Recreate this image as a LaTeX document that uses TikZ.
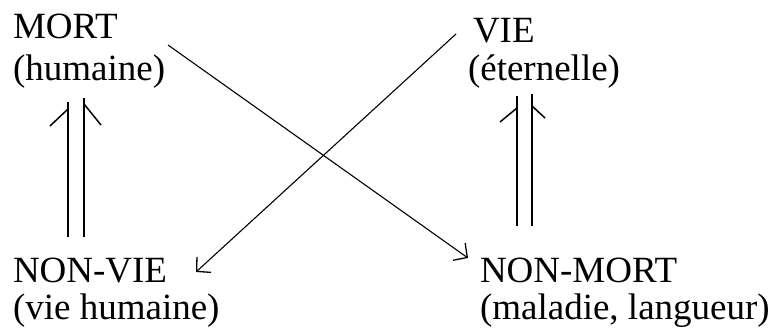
\documentclass[tikz,border=0pt]{standalone}
\usepackage{fontspec}
\setmainfont{Liberation Serif}
\usetikzlibrary{arrows.meta}
\begin{document}
\begin{tikzpicture}[x=1pt,y=-1pt,
  lbl/.style={anchor=base west, inner sep=0pt, outer sep=0pt, font=\fontsize{37}{40}\selectfont},
  diag/.style={line width=1.1pt, -{Straight Barb[length=10pt,width=21pt,line width=1.3pt]}},
  vline/.style={line width=1.7pt},
  barb/.style={line width=1.5pt}]
\useasboundingbox (0,0) rectangle (781,329);
% labels
\node[lbl] (mort)    at (13,39)  {MORT};
\node[lbl] (mortsub) at (13,80)  {(humaine)};
\node[lbl] (vie)     at (473,42) {VIE};
\node[lbl] (viesub)  at (468,81) {(éternelle)};
\node[lbl] (nonvie)  at (13,282) {NON-VIE};
\node[lbl] (nonviesub) at (13,319) {(vie humaine)};
\node[lbl] (nonmort) at (480,282) {NON-MORT};
\node[lbl] (nonmortsub) at (480,319) {(maladie, langueur)};
% connector end points
\coordinate (d1s) at (168,45);
\coordinate (d1e) at (468,258);
\coordinate (d2s) at (456,34);
\coordinate (d2e) at (196,272);
% diagonals
\draw[diag] (d1s) -- (d1e);
\draw[diag] (d2s) -- (d2e);
% left double arrow (NON-VIE -> MORT)
\coordinate (l1b) at (68,237); \coordinate (l1t) at (68,102);
\coordinate (l2b) at (84,237); \coordinate (l2t) at (84,98);
\draw[vline] (l1b) -- (l1t);
\draw[vline] (l2b) -- (l2t);
\draw[barb] (68,109) -- (50,126);
\draw[barb] (84,104) -- (101,125);
% right double arrow (NON-MORT -> VIE)
\coordinate (r1b) at (517,226); \coordinate (r1t) at (517,96);
\coordinate (r2b) at (532,226); \coordinate (r2t) at (532,94);
\draw[vline] (r1b) -- (r1t);
\draw[vline] (r2b) -- (r2t);
\draw[barb] (517,108) -- (500,122);
\draw[barb] (532,106) -- (545,118);
\end{tikzpicture}
\end{document}
